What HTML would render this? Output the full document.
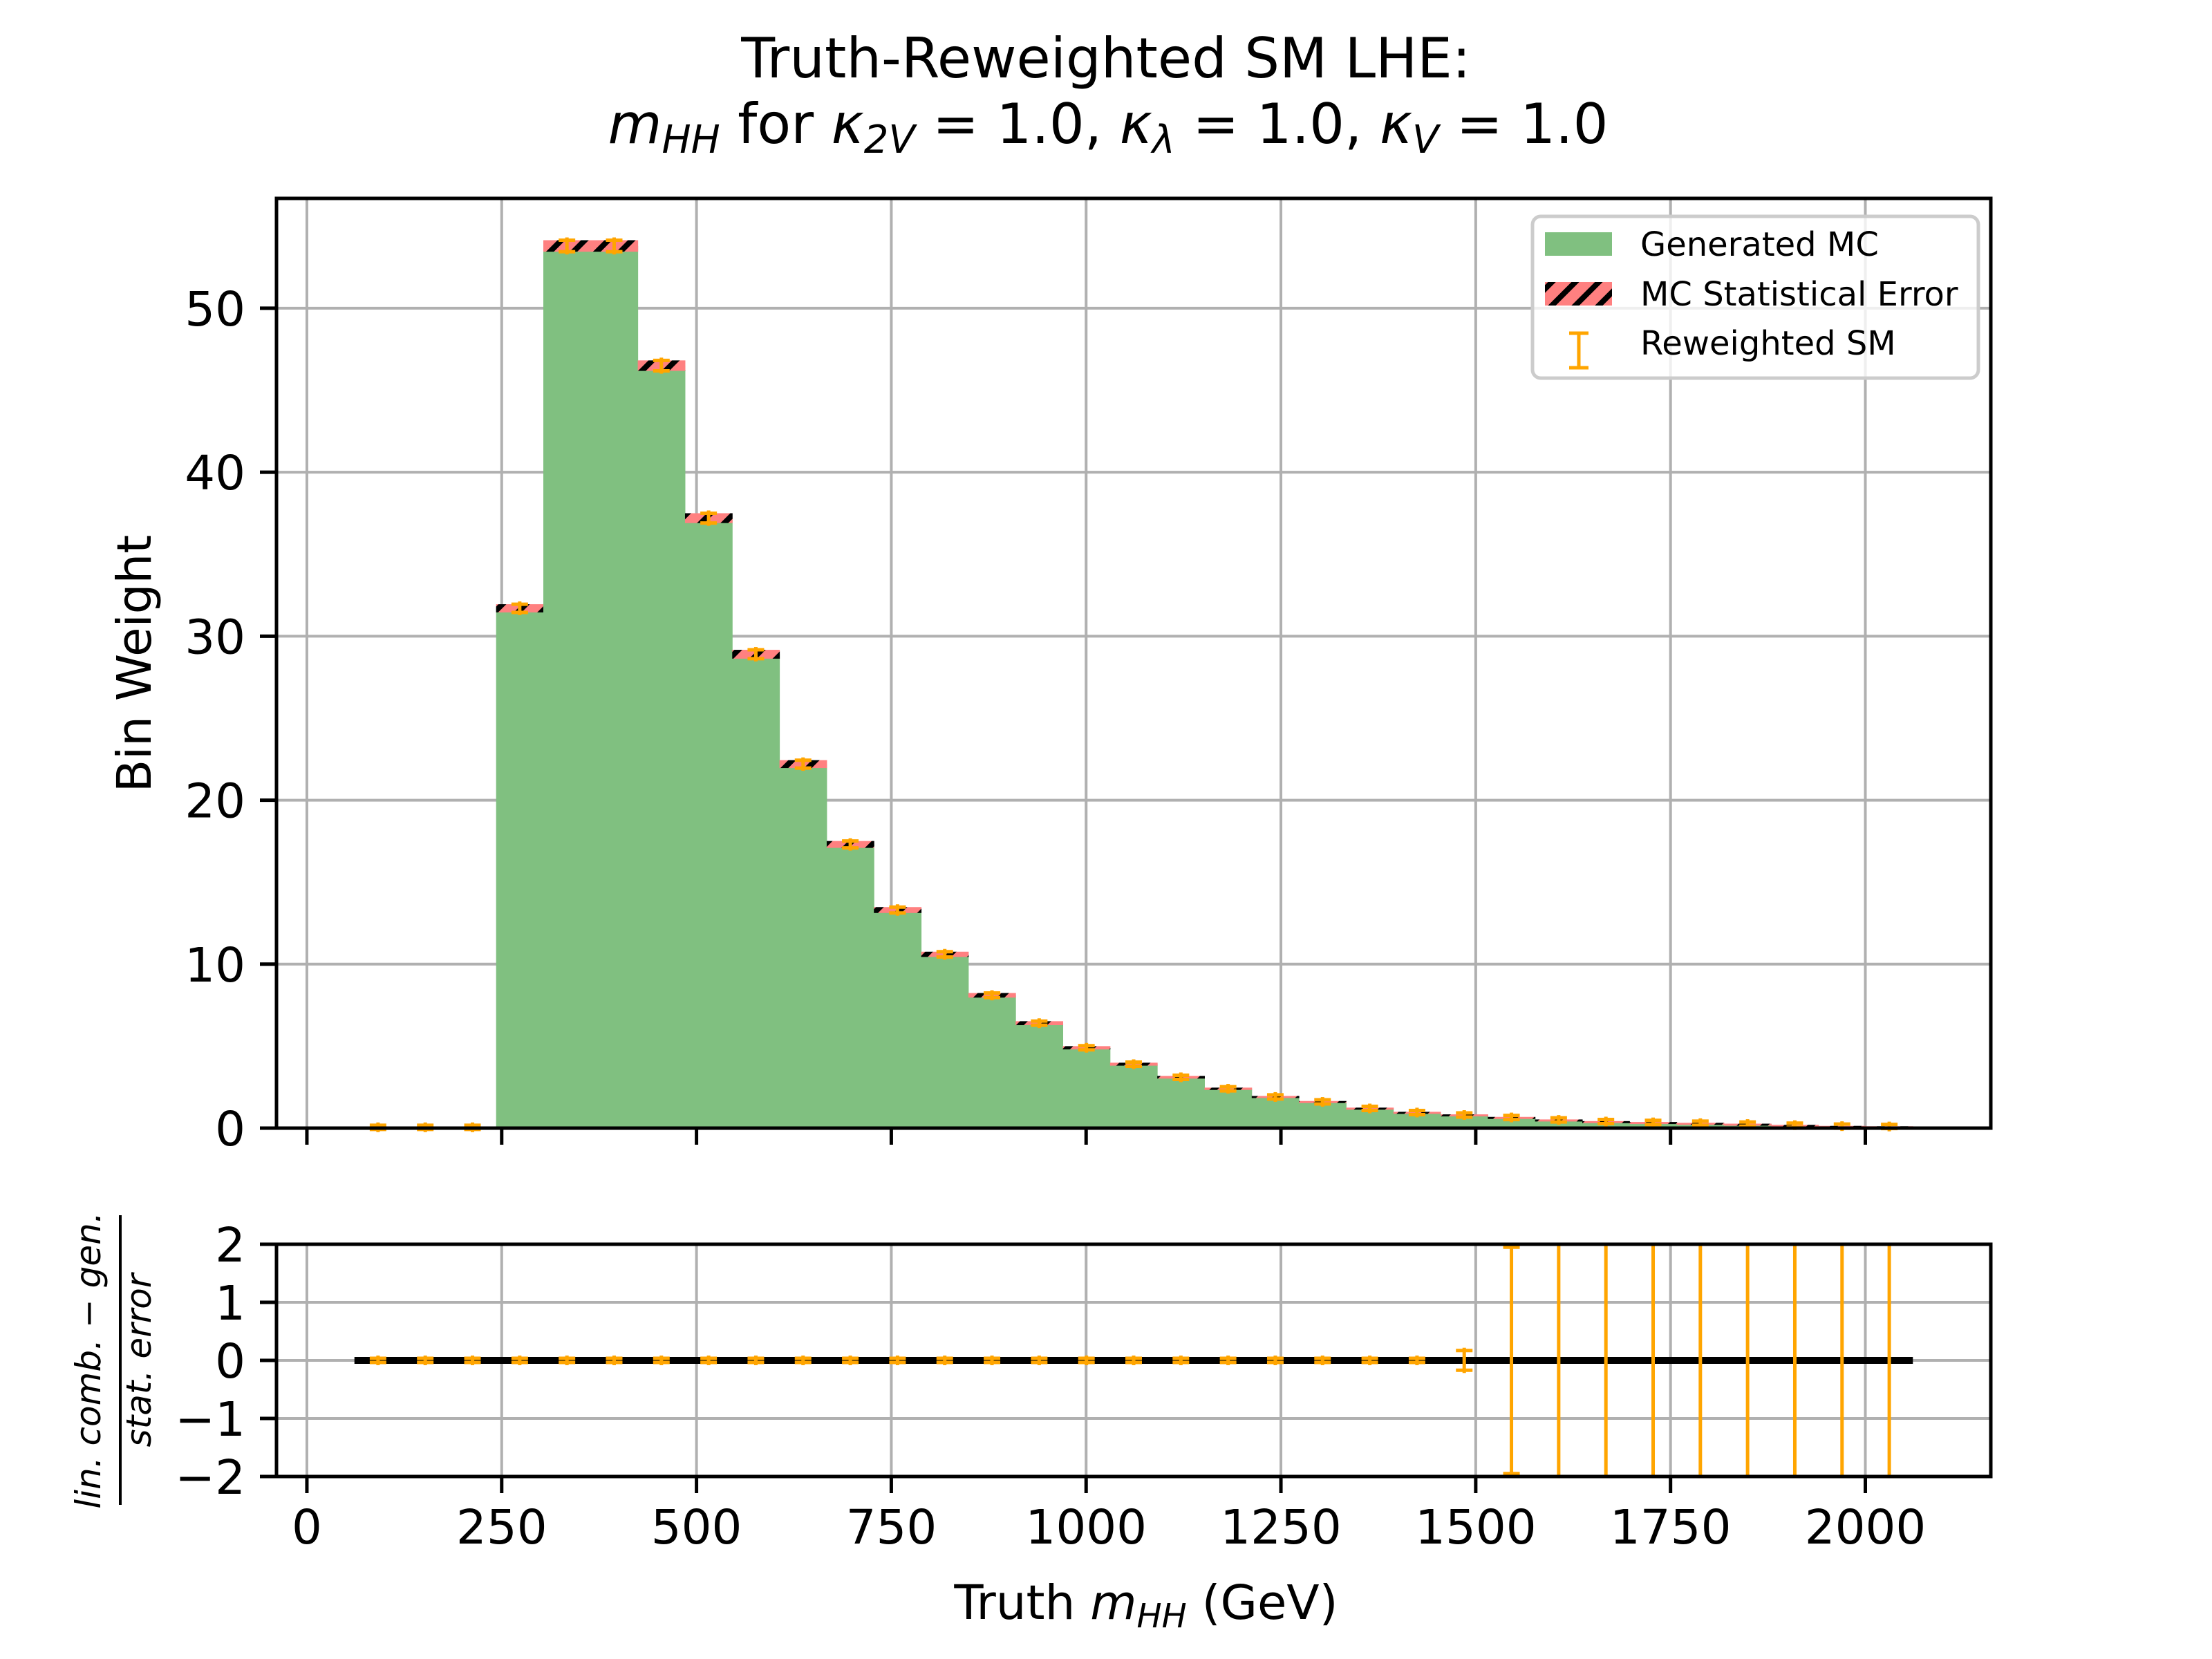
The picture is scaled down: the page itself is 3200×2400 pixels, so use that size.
<!DOCTYPE html>
<html><head><meta charset="utf-8">
<style>
html,body{margin:0;padding:0;background:#fff;}
svg{display:block;font-family:"DejaVu Sans","Liberation Sans",sans-serif;}
</style></head>
<body>
<svg id="chart" xmlns="http://www.w3.org/2000/svg" width="3200" height="2400" viewBox="0 0 3200 2400">
<defs>
<pattern id="hatch" patternUnits="userSpaceOnUse" width="24" height="24" patternTransform="rotate(45)">
<rect width="24" height="24" fill="#ff8080"/>
<rect x="0" width="8" height="24" fill="#000"/>
</pattern>
</defs>
<rect width="3200" height="2400" fill="#fff"/>
<text x="1600" y="112" font-size="80" text-anchor="middle">Truth-Reweighted SM LHE:</text>
<text x="1603" y="207" font-size="80" text-anchor="middle"><tspan font-style="italic">m</tspan><tspan font-style="italic" font-size="56" dy="14">HH</tspan><tspan dy="-14"> for </tspan><tspan font-style="italic">κ</tspan><tspan font-style="italic" font-size="56" dy="14">2V</tspan><tspan dy="-14"> = 1.0, </tspan><tspan font-style="italic">κ</tspan><tspan font-style="italic" font-size="56" dy="14">λ</tspan><tspan dy="-14"> = 1.0, </tspan><tspan font-style="italic">κ</tspan><tspan font-style="italic" font-size="56" dy="14">V</tspan><tspan dy="-14"> = 1.0</tspan></text>
<g id="main"></g>
<g id="ratio"></g>
<text transform="translate(218,960) rotate(-90)" font-size="69" text-anchor="middle">Bin Weight</text>
<g font-size="50" font-style="italic" text-anchor="middle">
<text transform="translate(145,1968) rotate(-90)">lin. comb. − gen.</text>
<line x1="174" y1="1758" x2="174" y2="2177" stroke="#000" stroke-width="4"/>
<text transform="translate(218,1968) rotate(-90)">stat. error</text>
</g>
<text x="1658" y="2342" font-size="69" text-anchor="middle">Truth <tspan font-style="italic">m</tspan><tspan font-style="italic" font-size="48" dy="12">HH</tspan><tspan dy="-12"> (GeV)</tspan></text>
<g>
<rect x="2217" y="313" width="645" height="234" rx="12" fill="#fff" fill-opacity="0.8" stroke="#ccc" stroke-width="5"/>
<rect x="2235" y="336" width="97" height="34" fill="#80c080"/>
<text x="2373" y="370" font-size="48">Generated MC</text>
<rect x="2235" y="408" width="97" height="34" fill="url(#hatch)"/>
<text x="2373" y="442" font-size="48">MC Statistical Error</text>
<g stroke="#ffa500" stroke-width="5">
<line x1="2284" y1="482" x2="2284" y2="532"/><line x1="2270" y1="482" x2="2298" y2="482"/><line x1="2270" y1="532" x2="2298" y2="532"/>
</g>
<text x="2373" y="513" font-size="48">Reweighted SM</text>
</g>
</svg>
<script>
const binEdgeLo = 61;
const binEdgeHi = 2061;
const genValues = [0.05,0.05,0.05,31.7,53.8,53.8,46.5,37.2,28.9,22.2,17.3,13.3,10.6,8.1,6.4,4.9,3.9,3.1,2.4,1.9,1.6,1.2,0.95,0.8,0.65,0.5,0.4,0.35,0.3,0.25,0.18,0.12,0.1];
const genErrors = [0.02,0.02,0.02,0.25,0.35,0.35,0.32,0.3,0.27,0.24,0.21,0.18,0.16,0.14,0.12,0.1,0.09,0.08,0.07,0.06,0.055,0.05,0.045,0.04,0.035,0.03,0.028,0.026,0.024,0.022,0.02,0.018,0.016];
const rwValues = [0.05,0.05,0.05,31.7,53.8,53.8,46.5,37.2,28.9,22.2,17.3,13.3,10.6,8.1,6.4,4.9,3.9,3.1,2.4,1.9,1.6,1.2,0.95,0.8,0.65,0.5,0.4,0.35,0.3,0.25,0.18,0.12,0.1];
const ratioValues = [0,0,0,0,0,0,0,0,0,0,0,0,0,0,0,0,0,0,0,0,0,0,0,0,0,0,0,0,0,0,0,0,0];
const ratioErrors = [0.03,0.03,0.03,0.03,0.03,0.03,0.03,0.03,0.03,0.03,0.03,0.03,0.03,0.03,0.03,0.03,0.03,0.03,0.03,0.03,0.03,0.03,0.03,0.17,1.95,3,3,3,3,3,3,3,3];
const xTicks = [0,250,500,750,1000,1250,1500,1750,2000];
const yTicks = [0,10,20,30,40,50];
const ratioTicks = [-2,-1,0,1,2];

const NS = "http://www.w3.org/2000/svg";
const L=400,R=2880,MT=287,MB=1632,RT=1800,RB=2136;
const xMin=-39, xMax=2161;
const X = v => L + (v - xMin) / (xMax - xMin) * (R - L);
const Y = v => MB - v / 56.7 * (MB - MT);
const YR = v => RB - (v + 2) / 4 * (RB - RT);
function mk(parent, tag, attrs){const e=document.createElementNS(NS,tag);for(const k in attrs)e.setAttribute(k,attrs[k]);parent.appendChild(e);return e;}
const main=document.getElementById('main');
const ratio=document.getElementById('ratio');
const n=genValues.length;
const bw=(binEdgeHi-binEdgeLo)/n;

for(const t of xTicks){
  const g1=mk(main,'line',{x1:X(t),x2:X(t),y1:MT,y2:MB,stroke:'#b0b0b0','stroke-width':4});
  
  
  const g2=mk(ratio,'line',{x1:X(t),x2:X(t),y1:RT,y2:RB,stroke:'#b0b0b0','stroke-width':4});
  
  
}
for(const t of yTicks){
  const g=mk(main,'line',{x1:L,x2:R,y1:Y(t),y2:Y(t),stroke:'#b0b0b0','stroke-width':4});
  
  
}
for(const t of ratioTicks){
  const g=mk(ratio,'line',{x1:L,x2:R,y1:YR(t),y2:YR(t),stroke:'#b0b0b0','stroke-width':4});
  
  
}
for(let i=0;i<n;i++){
  const x0=X(binEdgeLo+i*bw), x1=X(binEdgeLo+(i+1)*bw);
  const b=mk(main,'rect',{x:x0,y:Y(genValues[i]),width:x1-x0+0.5,height:MB-Y(genValues[i]),fill:'#80c080'});
  
  
  const top=Y(genValues[i]+genErrors[i]), bot=Y(Math.max(0,genValues[i]-genErrors[i]));
  const h=mk(main,'rect',{x:x0,y:top,width:x1-x0+0.5,height:Math.max(3,bot-top),fill:'url(#hatch)'});
  
  
}
for(let i=0;i<n;i++){
  const cx=X(binEdgeLo+(i+0.5)*bw), cy=Y(rwValues[i]);
  const e=genErrors[i];
  const g=mk(main,'g',{stroke:'#ffa500','stroke-width':5,fill:'#ffa500'});
  
  
  const t=Math.min(Y(rwValues[i]+e),cy-3), bo=Math.max(Y(rwValues[i]-e),cy+3);
  mk(g,'line',{x1:cx,x2:cx,y1:t-4,y2:bo+4});
  mk(g,'line',{x1:cx-12,x2:cx+12,y1:t,y2:t});
  mk(g,'line',{x1:cx-12,x2:cx+12,y1:bo,y2:bo});
}
const zl=mk(ratio,'line',{x1:X(binEdgeLo),x2:X(binEdgeHi),y1:YR(0),y2:YR(0),stroke:'#000','stroke-width':10});


const clip=mk(ratio,'clipPath',{id:'rclip'});
mk(clip,'rect',{x:L,y:RT,width:R-L,height:RB-RT});
for(let i=0;i<n;i++){
  const cx=X(binEdgeLo+(i+0.5)*bw), v=ratioValues[i], e=ratioErrors[i];
  const g=mk(ratio,'g',{stroke:'#ffa500','stroke-width':5,fill:'#ffa500','clip-path':'url(#rclip)'});
  
  
  const t=Math.min(YR(v+e),YR(v)-3), bo=Math.max(YR(v-e),YR(v)+3);
  mk(g,'line',{x1:cx,x2:cx,y1:t-4,y2:bo+4});
  mk(g,'line',{x1:cx-12,x2:cx+12,y1:t,y2:t});
  mk(g,'line',{x1:cx-12,x2:cx+12,y1:bo,y2:bo});
}
const s1=mk(main,'rect',{x:L,y:MT,width:R-L,height:MB-MT,fill:'none',stroke:'#000','stroke-width':5});


const s2=mk(ratio,'rect',{x:L,y:RT,width:R-L,height:RB-RT,fill:'none',stroke:'#000','stroke-width':5});


for(const t of xTicks){
  mk(main,'line',{x1:X(t),x2:X(t),y1:MB,y2:MB+24,stroke:'#000','stroke-width':5});
  mk(ratio,'line',{x1:X(t),x2:X(t),y1:RB,y2:RB+24,stroke:'#000','stroke-width':5});
  const tl=mk(ratio,'text',{x:X(t),y:RB+97,'font-size':69,'text-anchor':'middle'});
  
  
  tl.textContent=String(t);
}
for(const t of yTicks){
  mk(main,'line',{x1:L-24,x2:L,y1:Y(t),y2:Y(t),stroke:'#000','stroke-width':5});
  const tl=mk(main,'text',{x:L-45,y:Y(t)+25,'font-size':69,'text-anchor':'end'});
  
  
  tl.textContent=String(t);
}
for(const t of ratioTicks){
  mk(ratio,'line',{x1:L-24,x2:L,y1:YR(t),y2:YR(t),stroke:'#000','stroke-width':5});
  const tl=mk(ratio,'text',{x:L-45,y:YR(t)+25,'font-size':69,'text-anchor':'end'});
  
  
  tl.textContent=t<0?'−'+Math.abs(t):String(t);
}
</script>
</body></html>
